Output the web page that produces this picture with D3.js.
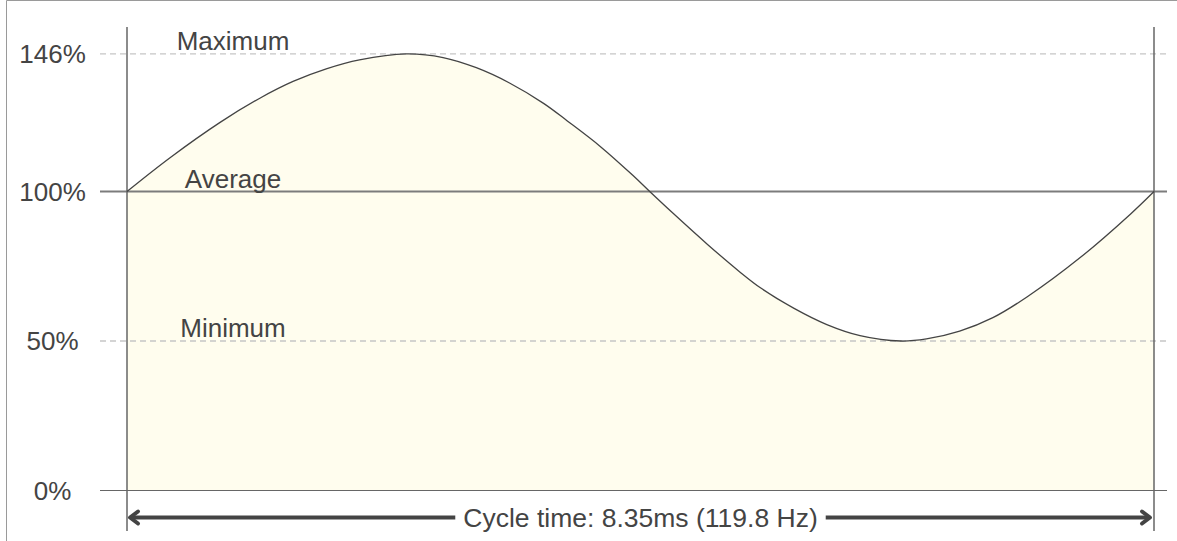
<!DOCTYPE html>
<html>
<head>
<meta charset="utf-8">
<script src="https://cdn.jsdelivr.net/npm/d3@7"></script>
<style>
  html, body { margin: 0; padding: 0; background: #fff; }
  svg { display: block; font-family: "Liberation Sans", Arial, sans-serif; }
</style>
</head>
<body>
<div id="chart"></div>
<script>
// waveform samples (time in ms, level in % of average)
const times  = [0, 0.35, 0.76, 1.08, 1.35, 1.62, 1.89, 2.27, 2.57, 2.84, 3.11, 3.39, 3.58, 3.85, 4.11, 4.25,
                4.44, 4.72, 4.98, 5.15, 5.42, 5.69, 5.96, 6.29, 6.50, 6.77, 7.04, 7.32, 7.75, 8.16, 8.35];
const levels = [100, 111.3, 123.2, 131.2, 136.8, 141, 144, 146, 144.8, 141.4, 136.3, 129.4, 123.6, 115, 105.5, 100,
                92.7, 82.3, 73.2, 67.8, 61, 55.5, 51.8, 50, 50.7, 53.3, 57.8, 64.8, 77.9, 92.5, 100];

// axis ticks
const tickValues = [0, 50, 100, 146];
const tickLabels = ['0%', '50%', '100%', '146%'];

// reference lines
const refValues = [146, 100, 50];
const refLabels = ['Maximum', 'Average', 'Minimum'];

// cycle
const cycleMs = 8.35;
const cycleHz = 119.8;

const W = 1177, H = 541;
const svg = d3.select('#chart').append('svg')
  .attr('width', W)
  .attr('height', H);

const x = d3.scaleLinear().domain([0, cycleMs]).range([127, 1154]);
const y = d3.scaleLinear().domain([0, 100]).range([490.5, 191.5]);

const points = times.map((t, i) => [t, levels[i]]);
const curve = d3.curveCatmullRom.alpha(0.5);

// outer frame (only top and left edges show)
svg.append('path')
  .attr('d', `M6.5,${H} L6.5,0.5 L${W},0.5`)
  .attr('fill', 'none')
  .attr('stroke', '#9a9a9a')
  .attr('stroke-width', 1);

// filled area under the waveform
svg.append('path')
  .datum(points)
  .attr('d', d3.area()
    .x(d => x(d[0]))
    .y0(y(0))
    .y1(d => y(d[1]))
    .curve(curve))
  .attr('fill', '#fffdee');

// reference lines (max / average / min)
svg.selectAll('.ref')
  .data(refValues)
  .enter().append('line')
  .attr('x1', 100)
  .attr('x2', 1167)
  .attr('y1', d => y(d))
  .attr('y2', d => y(d))
  .attr('stroke', d => d === 100 ? '#7c7c7c' : '#c6c6c6')
  .attr('stroke-width', d => d === 100 ? 2 : 1.3)
  .attr('stroke-dasharray', d => d === 100 ? null : '6,4');

// zero baseline
svg.append('line')
  .attr('x1', 100).attr('x2', 1167)
  .attr('y1', y(0)).attr('y2', y(0))
  .attr('stroke', '#666')
  .attr('stroke-width', 1.2);

// cycle boundaries
[0, cycleMs].forEach(t => {
  svg.append('line')
    .attr('x1', x(t)).attr('x2', x(t))
    .attr('y1', 27).attr('y2', 531)
    .attr('stroke', '#666')
    .attr('stroke-width', 1.5);
});

// the waveform
svg.append('path')
  .datum(points)
  .attr('d', d3.line()
    .x(d => x(d[0]))
    .y(d => y(d[1]))
    .curve(curve))
  .attr('fill', 'none')
  .attr('stroke', '#444')
  .attr('stroke-width', 1.3);

// tick labels
svg.selectAll('.tick')
  .data(tickValues)
  .enter().append('text')
  .attr('x', 52.5)
  .attr('y', d => y(d) + 9)
  .attr('text-anchor', 'middle')
  .attr('font-size', 26)
  .attr('fill', '#444')
  .text((d, i) => tickLabels[i]);

// reference labels
svg.selectAll('.refLabel')
  .data(refValues)
  .enter().append('text')
  .attr('x', 233)
  .attr('y', d => y(d) - 4)
  .attr('text-anchor', 'middle')
  .attr('font-size', 26)
  .attr('fill', '#444')
  .text((d, i) => refLabels[i]);

// cycle time arrow
const ay = 517.5;
const mid = (x(0) + x(cycleMs)) / 2;
const caption = svg.append('text')
  .attr('x', mid)
  .attr('y', ay + 9.5)
  .attr('text-anchor', 'middle')
  .attr('font-size', 26.5)
  .attr('fill', '#444')
  .text(`Cycle time: ${cycleMs}ms (${cycleHz} Hz)`);
const half = caption.node().getComputedTextLength() / 2 + 8;
const left = x(0) + 3, right = x(cycleMs) - 4;

svg.append('line')
  .attr('x1', left + 1).attr('x2', mid - half)
  .attr('y1', ay).attr('y2', ay)
  .attr('stroke', '#444').attr('stroke-width', 4);
svg.append('line')
  .attr('x1', mid + half).attr('x2', right - 1)
  .attr('y1', ay).attr('y2', ay)
  .attr('stroke', '#444').attr('stroke-width', 4);

svg.append('path')
  .attr('d', `M${left + 8},${ay - 6} L${left},${ay} L${left + 8},${ay + 6}`)
  .attr('fill', 'none').attr('stroke', '#444')
  .attr('stroke-width', 4).attr('stroke-linejoin', 'round').attr('stroke-linecap', 'round');
svg.append('path')
  .attr('d', `M${right - 8},${ay - 6} L${right},${ay} L${right - 8},${ay + 6}`)
  .attr('fill', 'none').attr('stroke', '#444')
  .attr('stroke-width', 4).attr('stroke-linejoin', 'round').attr('stroke-linecap', 'round');
</script>
</body>
</html>
